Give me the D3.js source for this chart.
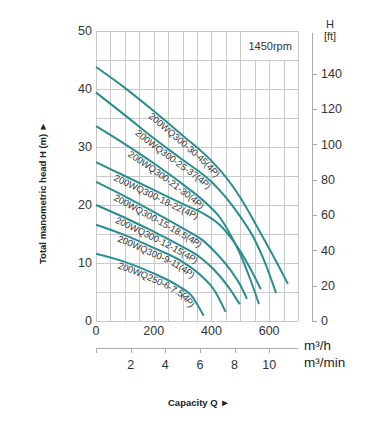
<!DOCTYPE html>
<html>
<head>
<meta charset="utf-8">
<script src="https://cdn.jsdelivr.net/npm/d3@7"></script>
<style>
  body { margin: 0; background: #fff; }
  svg { display: block; font-family: "Liberation Sans", Arial, sans-serif; }
</style>
</head>
<body>
<div id="chart"></div>
<script>
// pump curves: [capacity Q (m3/h), head H (m)]
const pump30_45  = [[0,43.8],[100,40.2],[200,36.2],[300,32],[400,27.6],[450,24.8],[500,21.3],[550,17],[600,12.5],[640,8.8],[665,6.4]];
const pump25_37  = [[0,39.4],[100,35.5],[200,31.5],[300,27.8],[400,24],[450,21.3],[500,18],[550,14],[590,9.5],[624,4.8]];
const pump21_30  = [[0,33.6],[100,30.5],[200,27.2],[300,23.6],[380,20.4],[430,17.8],[470,14.5],[500,11.5],[530,7.8],[565,2.9]];
const pump18_22  = [[0,27.4],[100,25],[200,22.6],[300,20.2],[380,18.3],[430,16.5],[480,13.5],[530,9.5],[571,5.5]];
const pump15_185 = [[0,24],[100,21.5],[200,18.8],[300,16],[370,13.9],[420,11.5],[470,8.5],[500,6.2],[523,3.8]];
const pump12_15  = [[0,20],[100,17.8],[200,15.4],[300,12.8],[360,11],[410,8.8],[460,5.8],[498,2.9]];
const pump9_11   = [[0,16.6],[100,14.8],[200,12.6],[300,10.2],[360,8],[410,5.3],[449,1.6]];
const pump6_75   = [[0,11.6],[100,10.2],[200,8.2],[280,6.2],[330,4.4],[373,0.9]];

const curves = [pump30_45, pump25_37, pump21_30, pump18_22, pump15_185, pump12_15, pump9_11, pump6_75];
const models = ["200WQ300-30-45(4P)","200WQ300-25-37(4P)","200WQ300-21-30(4P)","200WQ300-18-22(4P)",
                "200WQ300-15-18.5(4P)","200WQ300-12-15(4P)","200WQ300-9-11(4P)","200WQ250-6-7.5(4P)"];
const labelQ = [199,153,125,73,73,77,84,84]; // where each model label starts along its curve

const qTicks   = [0,200,400,600];
const hTicks   = [0,10,20,30,40,50];
const ftTicks  = [0,20,40,60,80,100,120,140];
const minTicks = [0,2,4,6,8,10];

const W = 375, H = 432;
const svg = d3.select('#chart').append('svg').attr('width', W).attr('height', H);

const x = d3.scaleLinear().domain([0,700]).range([96,298]);
const y = d3.scaleLinear().domain([0,50]).range([321,31]);
const yFt = d3.scaleLinear().domain([0,50/0.3048]).range([321,31]);

// grid
const grid = svg.append('g').attr('stroke','#c9c9c9').attr('stroke-width',1);
grid.selectAll('line.v').data(d3.range(0,701,50)).enter().append('line')
  .attr('x1', d=>Math.round(x(d))+0.5).attr('x2', d=>Math.round(x(d))+0.5)
  .attr('y1', y(50)).attr('y2', y(0));
grid.selectAll('line.h').data(d3.range(0,51,5)).enter().append('line')
  .attr('x1', x(0)).attr('x2', x(700))
  .attr('y1', d=>Math.round(y(d))+0.5).attr('y2', d=>Math.round(y(d))+0.5);

// speed box top right
svg.append('rect')
  .attr('x', Math.round(x(500))+1).attr('y', Math.round(y(50))+1)
  .attr('width', Math.round(x(700))-Math.round(x(500))-1)
  .attr('height', Math.round(y(45))-Math.round(y(50))-1)
  .attr('fill','#fff');
svg.append('text').attr('x', (x(500)+x(700))/2+1).attr('y', (y(50)+y(45))/2+4)
  .attr('text-anchor','middle').attr('font-size',11).attr('fill','#333').text('1450rpm');

// curves
const line = d3.line().x(d=>x(d[0])).y(d=>y(d[1])).curve(d3.curveMonotoneX);
const paths = svg.append('g').selectAll('path').data(curves).enter().append('path')
  .attr('id', (d,i)=>'c'+i)
  .attr('d', line)
  .attr('fill','none').attr('stroke','#2a8e90').attr('stroke-width',2);

// model labels along the curves
const lab = svg.append('g').attr('font-size',9.4).attr('fill','#333');
paths.each(function(d,i){
  const len = this.getTotalLength();
  let lo = 0, hi = len;
  for (let k=0;k<30;k++){ const m=(lo+hi)/2; if (this.getPointAtLength(m).x < x(labelQ[i])) lo=m; else hi=m; }
  lab.append('text').attr('dy', 8.5)
    .append('textPath').attr('href','#c'+i).attr('startOffset', lo).text(models[i]);
});

// left axis labels (m)
svg.append('g').selectAll('text').data(hTicks).enter().append('text')
  .attr('x', 92).attr('y', d=>y(d)).attr('dy','0.35em')
  .attr('text-anchor','end').attr('font-size',12.5).attr('fill','#333').text(d=>d);

// bottom axis labels (m3/h)
svg.append('g').selectAll('text').data(qTicks).enter().append('text')
  .attr('x', d=>x(d)).attr('y', 335)
  .attr('text-anchor','middle').attr('font-size',12.5).attr('fill','#333').text(d=>d);

// right axis (ft)
const ra = svg.append('g');
ra.append('line').attr('x1',312.5).attr('x2',312.5).attr('y1',y(50)+2).attr('y2',yFt(0)+0.5).attr('stroke','#aaa');
ra.selectAll('line.t').data(ftTicks).enter().append('line')
  .attr('x1',312).attr('x2',317).attr('y1',d=>Math.round(yFt(d))+0.5).attr('y2',d=>Math.round(yFt(d))+0.5).attr('stroke','#aaa');
ra.selectAll('text').data(ftTicks).enter().append('text')
  .attr('x', 321).attr('y', d=>yFt(d)).attr('dy','0.35em')
  .attr('font-size',12.5).attr('fill','#333').text(d=>d);
svg.append('text').attr('x',330).attr('y',28).attr('text-anchor','middle').attr('font-size',11).attr('fill','#333').text('H');
svg.append('text').attr('x',330).attr('y',40).attr('text-anchor','middle').attr('font-size',11).attr('fill','#333').text('[ft]');

// second bottom axis (m3/min)
const ba = svg.append('g');
ba.append('line').attr('x1',x(0)).attr('x2',x(700)).attr('y1',348.5).attr('y2',348.5).attr('stroke','#aaa');
ba.selectAll('line.t').data(minTicks).enter().append('line')
  .attr('x1',d=>Math.round(x(d*60))+0.5).attr('x2',d=>Math.round(x(d*60))+0.5)
  .attr('y1',348).attr('y2',353).attr('stroke','#aaa');
ba.selectAll('text').data(minTicks.filter(d=>d>0)).enter().append('text')
  .attr('x', d=>x(d*60)).attr('y', 369)
  .attr('text-anchor','middle').attr('font-size',12.5).attr('fill','#333').text(d=>d);

svg.append('text').attr('x',304).attr('y',350).attr('font-size',13.5).attr('fill','#222').text('m³/h');
svg.append('text').attr('x',304).attr('y',367).attr('font-size',13.5).attr('fill','#222').text('m³/min');

// axis titles
svg.append('text').attr('x',168).attr('y',406).attr('font-size',9.5).attr('font-weight','bold').attr('fill','#222')
  .text('Capacity Q  ►');
svg.append('text').attr('transform','translate(46,264) rotate(-90)').attr('font-size',9.5).attr('font-weight','bold').attr('fill','#222')
  .text('Total manometric head H (m)  ►');
</script>
</body>
</html>
